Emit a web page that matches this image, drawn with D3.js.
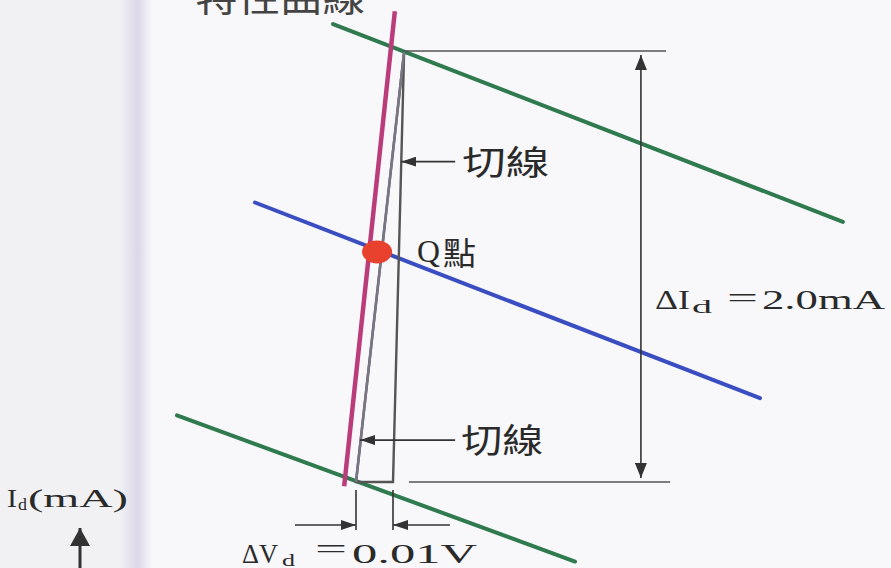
<!DOCTYPE html>
<html>
<head>
<meta charset="utf-8">
<script src="https://cdn.jsdelivr.net/npm/d3@7"></script>
<style>
  html, body { margin: 0; padding: 0; background: #f8f8fa; }
  svg { display: block; }
</style>
</head>
<body>
<svg id="chart" width="891" height="568"></svg>
<script>
// Diode small-signal resistance: characteristic curve, tangent and load lines.
// Horizontal values are V_d in mV, vertical values are I_d in mA.

const charCurve     = [[710.5, 6.19], [696.8, 3.98]];   // 特性曲線
const loadLineHigh  = [[693.8, 6.13], [831.6, 5.21]];
const loadLineQ     = [[672.7, 5.30], [809.2, 4.39]];
const loadLineLow   = [[651.6, 4.31], [759.2, 3.63]];
const qPoint        = [705.7, 5.07];                     // Q點
const tangentTri    = [[700.0, 4.0], [713.0, 6.0], [710.0, 4.0]];
const deltaI        = 2.0;    // mA
const deltaV        = 0.01;   // V
const extTop        = [713.0, 783.8];   // extension lines for ΔI
const extBottom     = [714.3, 784.9];
const dimArrowV     = 777.0;
const tangentArrows = [[712.2, 5.49], [701.1, 4.195]];  // arrow tips, upper and lower 切線
const arrowTailV    = 726.8;
const dvTicks       = [3.963, 3.777];   // span of the ΔV witness ticks
const dvArrowI      = 3.80;
const dvArrowTails  = [683.5, 725.4];

const x = d3.scaleLinear().domain([700, 710]).range([356, 393]);
const y = d3.scaleLinear().domain([4, 6]).range([482, 52]);

const svg = d3.select("#chart");
const W = 891, H = 568;

// paper background with the darker binding strip on the left
const defs = svg.append("defs");
const g1 = defs.append("linearGradient").attr("id", "spine").attr("x1", 0).attr("x2", 1);
g1.append("stop").attr("offset", 0).attr("stop-color", "#f0f0f4");
g1.append("stop").attr("offset", 0.55).attr("stop-color", "#dcd7e9");
g1.append("stop").attr("offset", 1).attr("stop-color", "#f7f7fa");
svg.append("rect").attr("width", W).attr("height", H).attr("fill", "#f8f8fa");
svg.append("rect").attr("width", 128).attr("height", H).attr("fill", "#f1f1f4");
svg.append("rect").attr("x", 120).attr("width", 32).attr("height", H).attr("fill", "url(#spine)");

// arrowheads
function head(id, color, len, half) {
  defs.append("marker").attr("id", id)
    .attr("viewBox", `0 ${-half} ${len} ${2 * half}`)
    .attr("refX", len).attr("refY", 0)
    .attr("markerUnits", "userSpaceOnUse")
    .attr("markerWidth", len).attr("markerHeight", 2 * half)
    .attr("orient", "auto-start-reverse")
    .append("path").attr("d", `M0,${-half}L${len},0L0,${half}Z`).attr("fill", color);
}
head("ah", "#333", 15, 5);
head("ahDim", "#333", 15, 6);
head("ahAxis", "#333", 18, 10);

const line = d3.line().x(d => x(d[0])).y(d => y(d[1]));

// load lines
const loads = [
  { pts: loadLineHigh, color: "#2f7a4e" },
  { pts: loadLineQ, color: "#3a4ec2" },
  { pts: loadLineLow, color: "#2f7a4e" }
];
svg.append("g").selectAll("path").data(loads).join("path")
  .attr("d", d => line(d.pts))
  .attr("fill", "none").attr("stroke", d => d.color)
  .attr("stroke-width", 4).attr("stroke-linecap", "round");

// ΔI extension lines
svg.append("g").selectAll("line").data([[extTop, 6.0], [extBottom, 4.0]]).join("line")
  .attr("x1", d => x(d[0][0])).attr("x2", d => x(d[0][1]))
  .attr("y1", d => y(d[1]) - (d[1] === 6 ? 1 : 0)).attr("y2", d => y(d[1]) - (d[1] === 6 ? 1 : 0))
  .attr("stroke", "#555").attr("stroke-width", 1.6);

// ΔI double arrow
svg.append("line")
  .attr("x1", x(dimArrowV)).attr("x2", x(dimArrowV))
  .attr("y1", y(4.0) - 4).attr("y2", y(4.0 + deltaI) + 3)
  .attr("stroke", "#333").attr("stroke-width", 1.6)
  .attr("marker-start", "url(#ahDim)").attr("marker-end", "url(#ahDim)");

// tangent triangle
svg.append("path")
  .attr("d", line(tangentTri) + "Z")
  .attr("fill", "none").attr("stroke", "#555").attr("stroke-width", 2.4)
  .attr("stroke-linejoin", "miter");
svg.append("path")
  .attr("d", line(tangentTri.slice(0, 2)))
  .attr("fill", "none").attr("stroke", "#7a7584").attr("stroke-width", 2.6);

// characteristic curve
svg.append("path").attr("d", line(charCurve))
  .attr("fill", "none").attr("stroke", "#bb3c7a").attr("stroke-width", 4.5);

// Q point
svg.append("ellipse")
  .attr("cx", x(qPoint[0])).attr("cy", y(qPoint[1]))
  .attr("rx", 15).attr("ry", 11.5).attr("fill", "#e8412e");

// arrows pointing at the tangent
svg.append("g").selectAll("line").data(tangentArrows).join("line")
  .attr("x1", x(arrowTailV)).attr("x2", d => x(d[0]))
  .attr("y1", d => y(d[1])).attr("y2", d => y(d[1]))
  .attr("stroke", "#333").attr("stroke-width", 1.6)
  .attr("marker-end", "url(#ah)");

// ΔV witness ticks and arrows
svg.append("g").selectAll("line").data([700, 700 + deltaV * 1000]).join("line")
  .attr("x1", d => x(d)).attr("x2", d => x(d))
  .attr("y1", y(dvTicks[0])).attr("y2", y(dvTicks[1]))
  .attr("stroke", "#333").attr("stroke-width", 1.6);
svg.append("g").selectAll("line")
  .data([[dvArrowTails[0], 700], [dvArrowTails[1], 700 + deltaV * 1000]]).join("line")
  .attr("x1", d => x(d[0])).attr("x2", d => x(d[1]))
  .attr("y1", y(dvArrowI)).attr("y2", y(dvArrowI))
  .attr("stroke", "#333").attr("stroke-width", 1.6)
  .attr("marker-end", "url(#ah)");

// text helpers
const CJK = "'Noto Sans CJK TC', 'Noto Sans CJK SC', sans-serif";
const SERIF = "'Liberation Serif', 'DejaVu Serif', serif";
function txt(s, px, py, size, family, len) {
  const t = svg.append("text").attr("x", px).attr("y", py)
    .attr("font-size", size).attr("font-family", family)
    .attr("fill", "#2a2a2a").text(s);
  if (len) t.attr("textLength", len).attr("lengthAdjust", "spacingAndGlyphs");
  return t;
}

// 特性曲線 title (runs off the top edge)
txt("特性曲線", 195, 12, 36, CJK, 170).attr("fill", "#444");

// 切線 labels
txt("切線", x(arrowTailV) + 7, y(tangentArrows[0][1]) + 13, 34, CJK, 87);
txt("切線", x(arrowTailV) + 6, y(tangentArrows[1][1]) + 13, 34, CJK, 82);

// Q點
txt("Q", x(qPoint[0]) + 40, y(qPoint[1]) + 10, 32, SERIF, 23);
txt("點", x(qPoint[0]) + 66, y(qPoint[1]) + 13, 32, CJK, 33);

// ΔI_d = 2.0mA
const iy = 309;
txt("ΔI", 655, iy, 27, SERIF, 35);
txt("d", 692, iy + 4, 18, SERIF, 20);
txt("=", 727, iy - 2, 27, SERIF, 31);
txt(deltaI.toFixed(1) + "mA", 762, iy, 27, SERIF, 123);

// ΔV_d = 0.01V
const vy = 563;
txt("ΔV", 242, vy, 27, SERIF, 36);
txt("d", 282, vy + 3, 16, SERIF, 13);
txt("=", 315, vy - 5, 27, SERIF, 32);
txt(deltaV.toFixed(2) + "V", 352, vy, 27, SERIF, 125);

// I_d (mA) axis label with arrow
txt("I", 7, 507, 26, SERIF, 10);
txt("d", 18, 510, 16, SERIF, 9);
txt("(mA)", 28, 507, 26, SERIF, 100);
svg.append("line").attr("x1", 80).attr("x2", 80).attr("y1", H + 2).attr("y2", 528)
  .attr("stroke", "#333").attr("stroke-width", 3)
  .attr("marker-end", "url(#ahAxis)");
</script>
</body>
</html>
